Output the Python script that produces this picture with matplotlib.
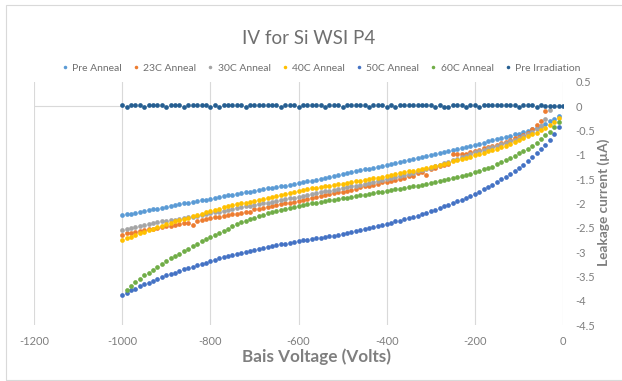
import matplotlib
matplotlib.use("Agg")
import matplotlib.pyplot as plt
from matplotlib.patches import Rectangle

plt.rcParams['font.family'] = ['Lato', 'DejaVu Sans']
plt.rcParams['axes.unicode_minus'] = False

# Bias sweep (V)
bias_full = list(range(-1000, 1, 10))      # -1000 ... 0
bias_to_10 = list(range(-1000, 0, 10))     # -1000 ... -10

pre_anneal = [
    -2.24, -2.22, -2.21, -2.19, -2.18, -2.16, -2.14, -2.12, -2.11, -2.09,
    -2.07, -2.05, -2.04, -2.02, -2.00, -1.98, -1.97, -1.95, -1.93, -1.92,
    -1.90, -1.88, -1.87, -1.85, -1.83, -1.82, -1.80, -1.79, -1.77, -1.76,
    -1.74, -1.72, -1.71, -1.69, -1.68, -1.66, -1.64, -1.63, -1.61, -1.60,
    -1.58, -1.56, -1.54, -1.53, -1.51, -1.49, -1.47, -1.45, -1.43, -1.41,
    -1.39, -1.37, -1.35, -1.33, -1.31, -1.30, -1.28, -1.26, -1.24, -1.22,
    -1.21, -1.19, -1.17, -1.15, -1.13, -1.11, -1.09, -1.07, -1.05, -1.03,
    -1.01, -0.99, -0.97, -0.95, -0.93, -0.90, -0.88, -0.86, -0.83, -0.81,
    -0.79, -0.77, -0.75, -0.72, -0.70, -0.68, -0.66, -0.63, -0.61, -0.58,
    -0.56, -0.53, -0.50, -0.47, -0.44, -0.40, -0.36, -0.31, -0.26, -0.19,
]

bias_23c = list(range(-1000, -39, 10))     # -1000 ... -40
anneal_23c = [
    -2.64, -2.60, -2.60, -2.58, -2.57, -2.55, -2.53, -2.52, -2.50, -2.49,
    -2.47, -2.46, -2.45, -2.43, -2.41, -2.40, -2.44, -2.35, -2.34, -2.32,
    -2.30, -2.28, -2.27, -2.25, -2.23, -2.22, -2.21, -2.20, -2.18, -2.17,
    -2.12, -2.11, -2.09, -2.07, -2.05, -2.04, -2.02, -2.00, -1.98, -1.96,
    -1.95, -1.93, -1.91, -1.89, -1.87, -1.85, -1.83, -1.81, -1.79, -1.77,
    -1.76, -1.74, -1.72, -1.70, -1.67, -1.65, -1.63, -1.61, -1.59, -1.56,
    -1.55, -1.53, -1.51, -1.49, -1.47, -1.43, -1.44, -1.37, -1.35, -1.42,
    -1.29, -1.26, -1.23, -1.21, -1.18, -0.99, -0.99, -0.99, -0.98, -0.95,
    -0.92, -0.89, -0.86, -0.84, -0.81, -0.79, -0.76, -0.73, -0.70, -0.66,
    -0.63, -0.59, -0.54, -0.46, -0.38, -0.30, -0.10,
]

bias_30c = list(range(-1000, -29, 10))     # -1000 ... -30
anneal_30c = [
    -2.54, -2.52, -2.51, -2.49, -2.47, -2.45, -2.43, -2.41, -2.39, -2.37,
    -2.36, -2.34, -2.33, -2.31, -2.30, -2.28, -2.27, -2.25, -2.23, -2.22,
    -2.20, -2.18, -2.17, -2.15, -2.13, -2.11, -2.10, -2.08, -2.06, -2.05,
    -2.03, -2.01, -1.99, -1.98, -1.96, -1.94, -1.93, -1.91, -1.89, -1.88,
    -1.86, -1.84, -1.82, -1.81, -1.79, -1.77, -1.75, -1.74, -1.72, -1.70,
    -1.69, -1.67, -1.65, -1.63, -1.62, -1.60, -1.58, -1.56, -1.54, -1.52,
    -1.50, -1.48, -1.46, -1.44, -1.41, -1.39, -1.37, -1.34, -1.31, -1.29,
    -1.26, -1.23, -1.20, -1.17, -1.14, -1.11, -1.08, -1.05, -1.02, -0.99,
    -0.95, -0.92, -0.89, -0.86, -0.84, -0.81, -0.78, -0.75, -0.72, -0.69,
    -0.66, -0.62, -0.58, -0.53, -0.47, -0.41, -0.27, -0.07,
]

anneal_40c = [
    -2.76, -2.72, -2.68, -2.65, -2.61, -2.58, -2.55, -2.52, -2.49, -2.46,
    -2.43, -2.40, -2.37, -2.34, -2.31, -2.29, -2.26, -2.23, -2.21, -2.18,
    -2.16, -2.13, -2.11, -2.08, -2.06, -2.04, -2.02, -2.00, -1.98, -1.96,
    -1.94, -1.92, -1.90, -1.88, -1.86, -1.84, -1.82, -1.80, -1.78, -1.76,
    -1.74, -1.73, -1.71, -1.69, -1.68, -1.66, -1.65, -1.63, -1.62, -1.60,
    -1.59, -1.57, -1.56, -1.54, -1.53, -1.51, -1.50, -1.48, -1.47, -1.45,
    -1.44, -1.42, -1.40, -1.38, -1.36, -1.34, -1.33, -1.31, -1.29, -1.27,
    -1.25, -1.23, -1.20, -1.18, -1.16, -1.13, -1.11, -1.09, -1.06, -1.04,
    -1.01, -0.99, -0.96, -0.93, -0.90, -0.87, -0.84, -0.81, -0.77, -0.74,
    -0.70, -0.66, -0.62, -0.58, -0.54, -0.49, -0.44, -0.38, -0.32, -0.25,
]

anneal_50c = [
    -3.89, -3.84, -3.79, -3.75, -3.70, -3.66, -3.63, -3.59, -3.55, -3.52,
    -3.48, -3.45, -3.42, -3.39, -3.35, -3.33, -3.30, -3.27, -3.24, -3.22,
    -3.19, -3.16, -3.13, -3.11, -3.08, -3.05, -3.03, -3.01, -2.99, -2.97,
    -2.95, -2.93, -2.91, -2.89, -2.88, -2.86, -2.84, -2.83, -2.81, -2.79,
    -2.78, -2.76, -2.75, -2.73, -2.72, -2.70, -2.69, -2.67, -2.66, -2.64,
    -2.62, -2.61, -2.59, -2.57, -2.55, -2.53, -2.51, -2.49, -2.47, -2.45,
    -2.42, -2.40, -2.37, -2.35, -2.32, -2.30, -2.27, -2.25, -2.22, -2.19,
    -2.16, -2.13, -2.09, -2.06, -2.03, -1.99, -1.95, -1.92, -1.88, -1.84,
    -1.80, -1.76, -1.71, -1.66, -1.61, -1.56, -1.50, -1.45, -1.39, -1.33,
    -1.27, -1.20, -1.13, -1.05, -0.97, -0.88, -0.79, -0.69, -0.57, -0.43,
]

bias_60c = list(range(-990, 0, 10))        # -990 ... -10
anneal_60c = [
    -3.77, -3.70, -3.61, -3.55, -3.48, -3.42, -3.36, -3.31, -3.25,
    -3.19, -3.13, -3.08, -3.03, -2.98, -2.93, -2.88, -2.83, -2.78, -2.74,
    -2.69, -2.64, -2.60, -2.57, -2.52, -2.47, -2.43, -2.39, -2.36, -2.32,
    -2.29, -2.26, -2.23, -2.20, -2.18, -2.15, -2.13, -2.11, -2.09, -2.07,
    -2.06, -2.04, -2.02, -2.00, -1.99, -1.97, -1.95, -1.93, -1.92, -1.91,
    -1.89, -1.88, -1.86, -1.85, -1.83, -1.82, -1.80, -1.79, -1.77, -1.76,
    -1.74, -1.73, -1.71, -1.70, -1.68, -1.67, -1.65, -1.63, -1.62, -1.60,
    -1.58, -1.56, -1.54, -1.52, -1.50, -1.48, -1.46, -1.44, -1.41, -1.39,
    -1.36, -1.33, -1.30, -1.27, -1.24, -1.18, -1.14, -1.10, -1.06, -1.02,
    -0.97, -0.93, -0.87, -0.82, -0.75, -0.68, -0.60, -0.53, -0.43, -0.32,
]

pre_irradiation = [
    0.02, -0.01, 0.02, 0.02, 0.02, -0.01, 0.02, 0.02, 0.02, 0.02,
    -0.01, 0.02, 0.02, 0.02, -0.01, 0.02, 0.02, 0.02, 0.02, 0.02,
    -0.01, 0.02, -0.01, 0.02, 0.02, 0.02, 0.02, 0.02, -0.01, 0.02,
    0.02, 0.02, 0.02, 0.02, 0.02, 0.02, -0.01, 0.02, 0.02, 0.02,
    -0.01, 0.02, 0.02, 0.02, 0.02, 0.02, -0.01, 0.02, 0.02, 0.02,
    -0.01, 0.02, 0.02, 0.02, 0.02, 0.02, -0.01, 0.02, 0.02, 0.02,
    -0.01, 0.02, -0.01, 0.02, 0.02, 0.02, 0.02, 0.02, 0.02, 0.02,
    0.02, -0.01, 0.02, -0.01, -0.01, 0.02, 0.02, 0.02, -0.01, 0.02,
    0.02, -0.01, 0.02, 0.02, 0.02, 0.02, 0.02, 0.02, 0.02, 0.02,
    -0.01, 0.02, 0.02, 0.02, -0.01, 0.02, 0.00, 0.00, 0.00, 0.00,
    0.00,
]

series = [
    ("Pre Anneal", bias_to_10, pre_anneal, "#5B9BD5"),
    ("23C Anneal", bias_23c, anneal_23c, "#ED7D31"),
    ("30C Anneal", bias_30c, anneal_30c, "#A5A5A5"),
    ("40C Anneal", bias_to_10, anneal_40c, "#FFC000"),
    ("50C Anneal", bias_to_10, anneal_50c, "#4472C4"),
    ("60C Anneal", bias_60c, anneal_60c, "#70AD47"),
    ("Pre Irradiation", bias_full, pre_irradiation, "#255E91"),
]

x_ticks = [-1200, -1000, -800, -600, -400, -200, 0]
y_ticks = [0.5, 0, -0.5, -1, -1.5, -2, -2.5, -3, -3.5, -4, -4.5]

W, H = 622, 381
fig = plt.figure(figsize=(W / 100, H / 100), dpi=100)
fig.patch.set_facecolor("white")

# chart border
fig.patches.append(Rectangle((6 / W, 1 / H), 1.2, 1 - 6 / H, transform=fig.transFigure,
                             fill=False, edgecolor="#d9d9d9", linewidth=0.8))

ax = fig.add_axes([34 / W, 1 - 325 / H, (563 - 34) / W, (325 - 82) / H])
ax.set_xlim(-1200, 0)
ax.set_ylim(-4.5, 0.5)

grid_c = "#d9d9d9"
for xv in x_ticks:
    ax.axvline(xv, color=grid_c, linewidth=0.8, zorder=0)
ax.axhline(0, color=grid_c, linewidth=0.8, zorder=0)
for s in ax.spines.values():
    s.set_visible(False)

handles = []
for name, xs, ys, col in series:
    h, = ax.plot(xs, ys, linestyle="none", marker="o", markersize=3.4,
                 markeredgewidth=0, color=col, label=name, zorder=3)
    handles.append(h)

tick_c = "#7f7f7f"
ax.set_xticks(x_ticks)
ax.set_xticklabels([str(v) for v in x_ticks])
ax.set_yticks(y_ticks)
ax.set_yticklabels([("%g" % v) for v in y_ticks])
ax.yaxis.tick_right()
ax.tick_params(axis="both", length=0, labelsize=8, labelcolor=tick_c)
ax.tick_params(axis="y", pad=9)
ax.tick_params(axis="x", pad=8)

label_c = "#7f7f7f"
fig.text(309 / W, 1 - 39 / H, "IV for Si WSI P4", ha="center", va="center",
         fontsize=13.5, color="#6f6f6f")
fig.text(316 / W, 1 - 357 / H, "Bais Voltage (Volts)", ha="center", va="center",
         fontsize=12.3, fontweight="bold", color=label_c)
fig.text(604 / W, 1 - 202 / H, "Leakage current (\u00b5A)", ha="center", va="center",
         rotation=90, fontsize=9.8, fontweight="bold", color=label_c)

fig.legend(handles=handles, loc="center", bbox_to_anchor=(321 / W, 1 - 68 / H),
           ncol=7, frameon=False, fontsize=7.5, markerscale=0.75,
           handlelength=0.6, handletextpad=0.4, columnspacing=1.05,
           labelcolor="#6f6f6f")

fig.savefig("out.png", dpi=100)
